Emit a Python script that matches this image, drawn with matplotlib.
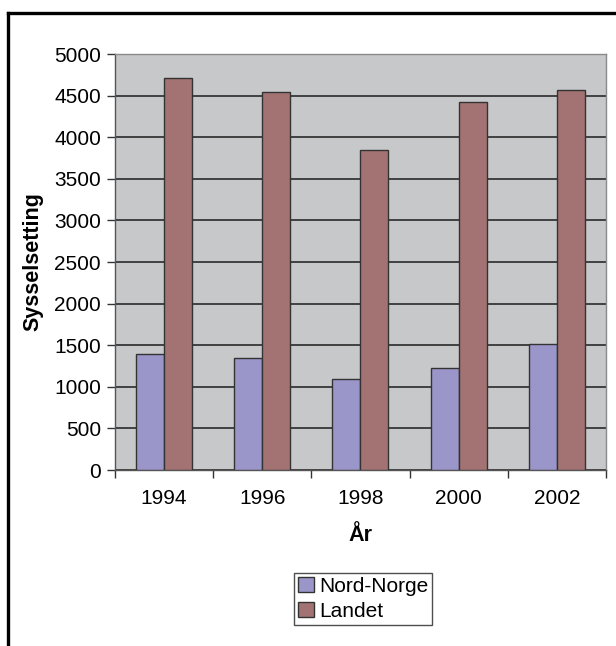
import numpy as np
import matplotlib
matplotlib.use("Agg")
import matplotlib.pyplot as plt
from matplotlib.lines import Line2D

plt.rcParams['font.family'] = ['Liberation Sans', 'DejaVu Sans']

years = ['1994', '1996', '1998', '2000', '2002']
nord_norge = [1390, 1350, 1090, 1230, 1520]
landet = [4710, 4540, 3850, 4420, 4570]
series_names = ['Nord-Norge', 'Landet']
colors = ['#9b96ca', '#a37373']

fig = plt.figure(figsize=(6.16, 6.46), dpi=100)
ax = fig.add_axes([0.1867, 0.2724, 0.797, 0.644])

x = np.arange(len(years))
w = 0.285
ax.bar(x - w / 2, nord_norge, w, color=colors[0], edgecolor='#333333', linewidth=1, zorder=3, label=series_names[0])
ax.bar(x + w / 2, landet, w, color=colors[1], edgecolor='#333333', linewidth=1, zorder=3, label=series_names[1])

ax.set_facecolor('#c7c8ca')
ax.set_xlim(-0.5, len(years) - 0.5)
ax.set_ylim(0, 5000)
ax.set_yticks(np.arange(0, 5001, 500))
ax.yaxis.grid(True, color='#2a2a2a', linewidth=1.2, zorder=1)
ax.set_axisbelow(True)

# category labels centered, tick marks on the boundaries
ax.set_xticks(x)
ax.set_xticklabels(years)
ax.tick_params(axis='x', which='major', length=0, pad=14, labelsize=15)
ax.set_xticks(np.arange(-0.5, len(years)), minor=True)
ax.tick_params(axis='x', which='minor', length=6, width=1, color='#333333')
ax.tick_params(axis='y', length=6, width=1, color='#333333', labelsize=15, pad=4)

for s in ax.spines.values():
    s.set_color('#8a8a8a')
    s.set_linewidth(1)
ax.spines['left'].set_color('#555555')
ax.spines['bottom'].set_color('#555555')

ax.set_ylabel('Sysselsetting', fontsize=15.5, fontweight='bold', labelpad=8)
ax.set_xlabel('År', fontsize=15.5, fontweight='bold', labelpad=12)

leg = fig.legend(loc='center', bbox_to_anchor=(363 / 616, 1 - 599 / 646), fontsize=15,
                 frameon=True, fancybox=False, edgecolor='#222222', handlelength=0.75,
                 handleheight=0.75, handletextpad=0.25, labelspacing=0.3, borderpad=0.2,
                 borderaxespad=0)
leg.get_frame().set_linewidth(1)

# outer frame: top and left lines
fig.add_artist(Line2D([8 / 616, 615 / 616], [1 - 13 / 646, 1 - 13 / 646], color='black', linewidth=2.4, transform=fig.transFigure))
fig.add_artist(Line2D([8 / 616, 8 / 616], [1 - 13 / 646, 0], color='black', linewidth=2.4, transform=fig.transFigure))

fig.savefig('out.png', dpi=100)
